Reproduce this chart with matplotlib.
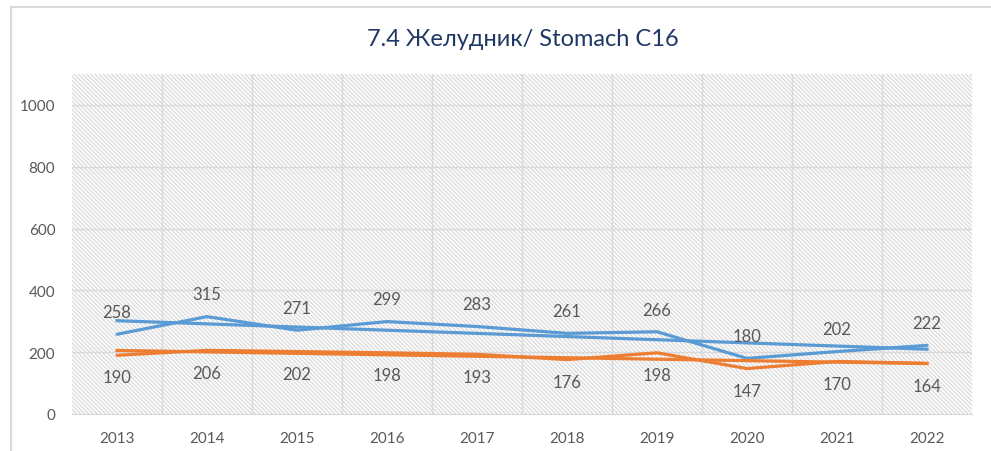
import numpy as np
import matplotlib.pyplot as plt
from matplotlib.patches import Rectangle

plt.rcParams['font.family'] = ['Lato', 'Noto Sans', 'DejaVu Sans']
plt.rcParams['hatch.linewidth'] = 1.0
plt.rcParams['hatch.color'] = '#DCDCDC'

years = ['2013', '2014', '2015', '2016', '2017', '2018', '2019', '2020', '2021', '2022']
blue_vals = [258, 315, 271, 299, 283, 261, 266, 180, 202, 222]
orange_vals = [190, 206, 202, 198, 193, 176, 198, 147, 170, 164]

BLUE = '#5B9BD5'
ORANGE = '#ED7D31'
TEXT = '#595959'
GRID = '#D9D9D9'


def plot():
    fig = plt.figure(figsize=(9.91, 4.52), dpi=100)
    ax = fig.add_axes([72 / 991, 37 / 452, 900 / 991, 340 / 452])

    x = np.arange(len(years))

    # hatched plot area
    ax.add_patch(Rectangle((-0.5, 0), len(years), 1100, facecolor='white',
                           edgecolor='#DCDCDC', hatch='\\' * 8, linewidth=0, zorder=0))

    # gridlines
    for yv in range(200, 1001, 200):
        ax.axhline(yv, color=GRID, lw=1, zorder=1)
    for xv in np.arange(0.5, len(years) - 0.5, 1):
        ax.axvline(xv, color=GRID, lw=1, zorder=1)

    # data lines
    ax.plot(x, blue_vals, color=BLUE, lw=2.3, zorder=3, solid_capstyle='round')
    ax.plot(x, orange_vals, color=ORANGE, lw=2.3, zorder=3, solid_capstyle='round')

    # linear trend lines
    for vals, c in [(blue_vals, BLUE), (orange_vals, ORANGE)]:
        k, b = np.polyfit(x, vals, 1)
        ax.plot(x, k * x + b, color=c, lw=2.3, zorder=3)

    for xi, v in zip(x, blue_vals):
        ax.annotate(str(v), (xi, v), xytext=(0, 16), textcoords='offset points',
                    ha='center', va='center', color=TEXT, fontsize=12)
    for xi, v in zip(x, orange_vals):
        ax.annotate(str(v), (xi, v), xytext=(0, -16), textcoords='offset points',
                    ha='center', va='center', color=TEXT, fontsize=12)

    ax.set_xlim(-0.5, len(years) - 0.5)
    ax.set_ylim(0, 1100)
    ax.set_xticks(x)
    ax.set_xticklabels(years)
    ax.set_yticks(range(0, 1001, 200))
    ax.tick_params(length=0, colors=TEXT, labelsize=11)
    ax.tick_params(axis='x', pad=12)
    ax.tick_params(axis='y', pad=12)
    for s in ['top', 'right', 'left']:
        ax.spines[s].set_visible(False)
    ax.spines['bottom'].set_color(GRID)

    fig.text(523 / 991, 1 - 40 / 452, '7.4 Желудник/ Stomach C16', ha='center', va='center',
             fontsize=17, color='#1F3864')

    # chart border
    fig.patches.append(Rectangle((11 / 991, -0.1), 1.1, 1 - 8 / 452 + 0.1, transform=fig.transFigure,
                                 fill=False, edgecolor=GRID, lw=1.5))

    fig.savefig('out.png', dpi=100)


plot()
